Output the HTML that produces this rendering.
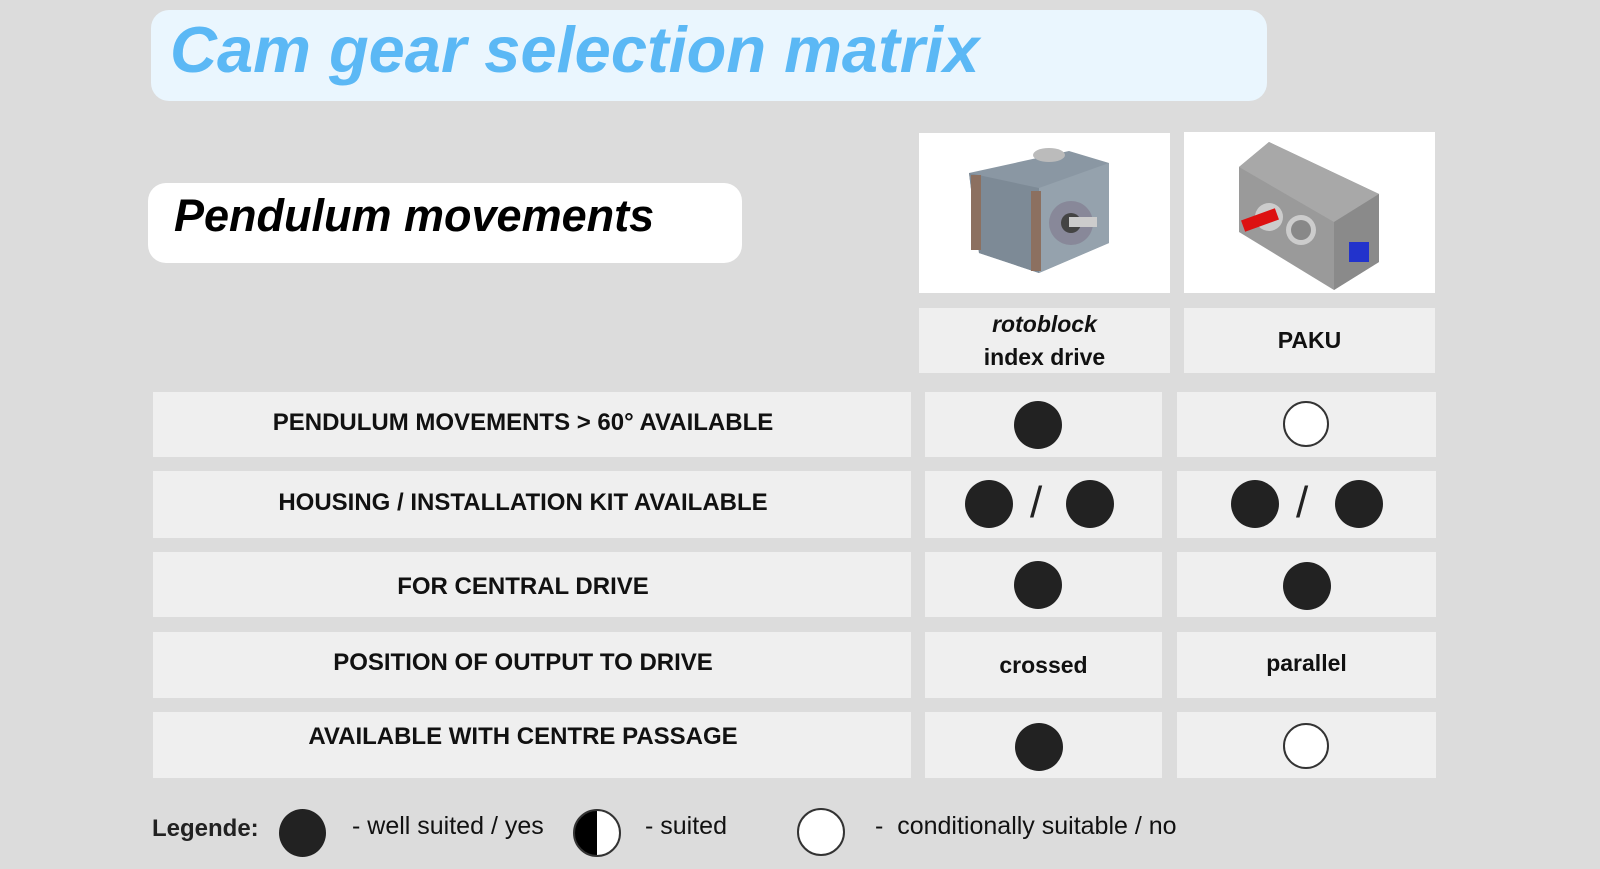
<!DOCTYPE html>
<html><head><meta charset="utf-8"><style>
body{margin:0;width:1600px;height:869px;background:#dcdcdc;position:relative;overflow:hidden;font-family:"Liberation Sans",sans-serif}
.a{position:absolute;box-sizing:border-box}
.cell{background:#efefef;display:flex;align-items:center;justify-content:center;font-weight:bold;font-size:23px;color:#111}
.lab{font-size:24px;padding-right:18px}
.dot{position:absolute;width:48px;height:48px;border-radius:50%;background:#222}
.open{position:absolute;width:46px;height:46px;border-radius:50%;background:#fff;border:2px solid #333;box-sizing:border-box}
.sl{position:absolute;font-size:44px;color:#222;font-weight:normal}
.lt{position:absolute;font-size:25px;color:#111;top:812px}
</style></head><body>
<div class="a" style="left:151px;top:10px;width:1116px;height:91px;background:#eaf6fe;border-radius:18px"></div>
<div class="a" style="left:170px;top:12px;font-size:65px;font-weight:bold;font-style:italic;color:#5bb8f5">Cam gear selection matrix</div>
<div class="a" style="left:148px;top:183px;width:594px;height:80px;background:#fff;border-radius:18px"></div>
<div class="a" style="left:174px;top:190px;font-size:45px;font-weight:bold;font-style:italic;color:#000">Pendulum movements</div>

<div class="a" style="left:919px;top:133px;width:251px;height:160px;background:#fff">
<svg width="251" height="160" viewBox="0 0 251 160">
<polygon points="50,40 150,18 190,30 190,110 120,140 60,120" fill="#8a97a3"/>
<polygon points="50,40 120,55 120,140 60,120" fill="#7d8a96"/>
<polygon points="120,55 190,30 190,110 120,140" fill="#95a2ad"/>
<rect x="52" y="42" width="10" height="75" fill="#8c7060"/>
<rect x="112" y="58" width="10" height="80" fill="#8c7060"/>
<ellipse cx="130" cy="22" rx="16" ry="7" fill="#bbb"/>
<circle cx="152" cy="90" r="22" fill="#889" />
<circle cx="152" cy="90" r="10" fill="#444"/>
<rect x="150" y="84" width="28" height="10" fill="#ccc"/>
</svg></div>
<div class="a" style="left:1184px;top:132px;width:251px;height:161px;background:#fff">
<svg width="251" height="161" viewBox="0 0 251 161">
<polygon points="55,35 85,10 195,62 195,130 150,158 55,100" fill="#9a9a9a"/>
<polygon points="55,35 85,10 195,62 150,90" fill="#a8a8a8"/>
<polygon points="150,90 195,62 195,130 150,158" fill="#8a8a8a"/>
<circle cx="85" cy="85" r="14" fill="#ccc"/>
<circle cx="117" cy="98" r="15" fill="#ccc"/><circle cx="117" cy="98" r="10" fill="#888"/>
<rect x="58" y="82" width="36" height="12" fill="#d11" transform="rotate(-20 76 88)"/>
<rect x="165" y="110" width="20" height="20" fill="#2233cc"/>
</svg></div>

<div class="a cell" style="left:919px;top:308px;width:251px;height:65px;flex-direction:column;line-height:33px"><i>rotoblock</i><span>index drive</span></div>
<div class="a cell" style="left:1184px;top:308px;width:251px;height:65px">PAKU</div>

<div class="a cell lab" style="left:153px;top:392px;width:758px;height:65px;padding-bottom:4px">PENDULUM MOVEMENTS &gt; 60° AVAILABLE</div>
<div class="a cell" style="left:925px;top:392px;width:237px;height:65px"></div>
<div class="a cell" style="left:1177px;top:392px;width:259px;height:65px"></div>
<div class="a cell lab" style="left:153px;top:471px;width:758px;height:67px;padding-bottom:4px">HOUSING / INSTALLATION KIT AVAILABLE</div>
<div class="a cell" style="left:925px;top:471px;width:237px;height:67px"></div>
<div class="a cell" style="left:1177px;top:471px;width:259px;height:67px"></div>
<div class="a cell lab" style="left:153px;top:552px;width:758px;height:65px;padding-top:5px">FOR CENTRAL DRIVE</div>
<div class="a cell" style="left:925px;top:552px;width:237px;height:65px"></div>
<div class="a cell" style="left:1177px;top:552px;width:259px;height:65px"></div>
<div class="a cell lab" style="left:153px;top:632px;width:758px;height:66px;padding-bottom:4px">POSITION OF OUTPUT TO DRIVE</div>
<div class="a cell" style="left:925px;top:632px;width:237px;height:66px">crossed</div>
<div class="a cell" style="left:1177px;top:632px;width:259px;height:66px;padding-bottom:4px">parallel</div>
<div class="a cell lab" style="left:153px;top:712px;width:758px;height:66px;padding-bottom:16px">AVAILABLE WITH CENTRE PASSAGE</div>
<div class="a cell" style="left:925px;top:712px;width:237px;height:66px"></div>
<div class="a cell" style="left:1177px;top:712px;width:259px;height:66px"></div>

<div class="dot" style="left:1014px;top:401px"></div>
<div class="open" style="left:1283px;top:401px"></div>
<div class="dot" style="left:965px;top:480px"></div>
<div class="sl" style="left:1030px;top:478px">/</div>
<div class="dot" style="left:1066px;top:480px"></div>
<div class="dot" style="left:1231px;top:480px"></div>
<div class="sl" style="left:1296px;top:478px">/</div>
<div class="dot" style="left:1335px;top:480px"></div>
<div class="dot" style="left:1014px;top:561px"></div>
<div class="dot" style="left:1283px;top:562px"></div>
<div class="dot" style="left:1015px;top:723px"></div>
<div class="open" style="left:1283px;top:723px"></div>

<div class="a" style="left:152px;top:815px;font-size:24px;font-weight:bold;color:#222">Legende:</div>
<div class="dot" style="left:279px;top:809px;width:47px"></div>
<div class="lt" style="left:352px">- well suited / yes</div>
<div class="a" style="left:573px;top:809px;width:48px;height:48px;border-radius:50%;border:2px solid #333;background:linear-gradient(90deg,#000 50%,#fff 50%)"></div>
<div class="lt" style="left:645px">- suited</div>
<div class="open" style="left:797px;top:808px;width:48px;height:48px"></div>
<div class="lt" style="left:875px">-&nbsp; conditionally suitable / no</div>
</body></html>
